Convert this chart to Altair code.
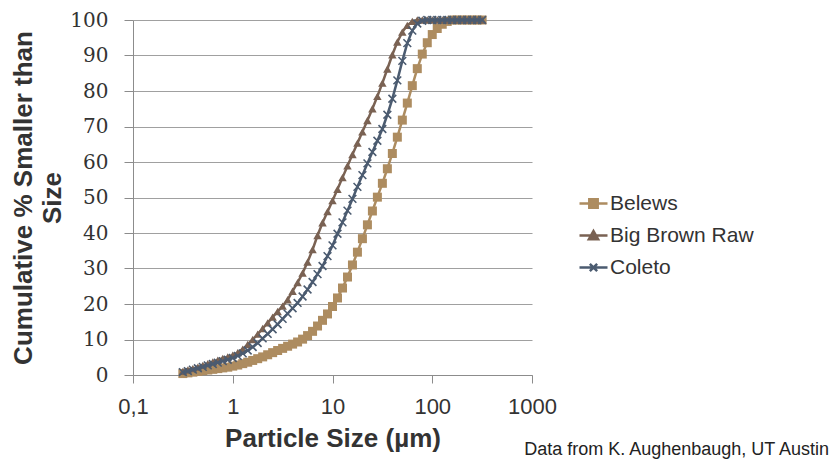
import altair as alt
import pandas as pd

# particle size bins (µm)
sizes = [0.316, 0.355, 0.398, 0.447, 0.501, 0.562, 0.631, 0.708, 0.794, 0.891,
         1.0, 1.122, 1.259, 1.413, 1.585, 1.778, 1.995, 2.239, 2.512, 2.818,
         3.162, 3.548, 3.981, 4.467, 5.012, 5.623, 6.310, 7.079, 7.943, 8.913,
         10.0, 11.22, 12.59, 14.13, 15.85, 17.78, 19.95, 22.39, 25.12, 28.18,
         31.62, 35.48, 39.81, 44.67, 50.12, 56.23, 63.10, 70.79, 79.43, 89.13,
         100.0, 112.2, 125.9, 141.3, 158.5, 177.8, 199.5, 223.9, 251.2, 281.8,
         316.2]

belews = [0.4, 0.6, 0.8, 1.0, 1.2, 1.4, 1.6, 1.8, 2.0, 2.2,
          2.5, 2.8, 3.2, 3.6, 4.1, 4.6, 5.1, 5.7, 6.3, 6.9,
          7.5, 8.1, 8.7, 9.3, 10.1, 11.1, 12.3, 13.8, 15.4, 17.2,
          19.3, 21.7, 24.5, 27.6, 31.0, 34.6, 38.4, 42.3, 46.2, 50.1,
          54.0, 58.1, 62.4, 67.0, 71.8, 76.6, 81.5, 86.3, 90.4, 93.6,
          95.9, 97.6, 98.8, 99.6, 100, 100, 100, 100, 100, 100,
          100]

big_brown = [1.0, 1.4, 1.8, 2.2, 2.7, 3.2, 3.7, 4.2, 4.7, 5.1,
             5.6, 6.3, 7.3, 8.6, 10.0, 11.5, 13.1, 14.7, 16.3, 17.9,
             19.4, 21.2, 23.6, 26.0, 28.7, 31.8, 35.3, 39.3, 42.9, 46.0,
             49.1, 52.3, 55.6, 58.9, 62.1, 65.3, 68.5, 71.7, 75.0, 78.5,
             82.2, 86.2, 90.2, 93.8, 96.6, 98.5, 99.6, 100, 100, 100,
             100, 100, 100, 100, 100, 100, 100, 100, 100, 100,
             100]

coleto = [0.8, 1.1, 1.5, 1.9, 2.3, 2.7, 3.1, 3.5, 3.9, 4.3,
          4.8, 5.4, 6.1, 6.9, 7.9, 9.0, 10.3, 11.6, 12.9, 14.3,
          15.8, 17.3, 18.8, 20.3, 22.1, 24.1, 26.2, 28.4, 30.7, 33.5,
          36.5, 39.8, 43.0, 46.3, 49.6, 53.0, 56.3, 59.6, 62.8, 66.0,
          69.3, 73.3, 77.8, 83.0, 88.5, 93.5, 97.0, 99.0, 99.8, 100,
          100, 100, 100, 100, 100, 100, 100, 100, 100, 100,
          100]

series_names = ["Belews", "Big Brown Raw", "Coleto"]
series_values = [belews, big_brown, coleto]
colors = ["#AD8C60", "#7A6253", "#4B5B70"]
x_ticks = [0.1, 1, 10, 100, 1000]
y_ticks = [0, 10, 20, 30, 40, 50, 60, 70, 80, 90, 100]
x_title = "Particle Size (µm)"
y_title = ["Cumulative % Smaller than", "Size"]
caption = "Data from K. Aughenbaugh, UT Austin"

SERIF = "DejaVu Serif"
SANS = "Liberation Sans"

X_PATH = "M-1,-1L1,1M-1,1L1,-1"
point_shapes = ["square", "triangle-up", X_PATH]
point_sizes = [81, 72, 60]
legend_paths = [
    "M-1,0L1,0M-0.3,-0.3L0.3,-0.3L0.3,0.3L-0.3,0.3Z",
    "M-1,0L1,0M0,-0.32L0.33,0.26L-0.33,0.26Z",
    "M-1,0L1,0M-0.26,-0.26L0.26,0.26M-0.26,0.26L0.26,-0.26",
]

rows = []
for name, vals in zip(series_names, series_values):
    for s, v in zip(sizes, vals):
        rows.append({"series": name, "size": s, "pct": v})
df = pd.DataFrame(rows)

x_enc = alt.X(
    "size:Q",
    scale=alt.Scale(type="log", domain=[0.1, 1000], nice=False),
    axis=alt.Axis(
        values=x_ticks,
        labelExpr="datum.value < 1 ? '0,1' : format(datum.value, 'd')",
        grid=False,
        tickSize=8,
        tickColor="#8C8C8C",
        domainColor="#8C8C8C",
        labelFont=SANS,
        labelFontSize=22,
        labelColor="#333333",
        labelPadding=13,
        labelFlush=False,
        labelOverlap=False,
        title=x_title,
        titleFont=SANS,
        titleFontSize=26,
        titleFontWeight="bold",
        titleColor="#333333",
        titleBaseline="alphabetic",
        titleY=71,
    ),
)
y_enc = alt.Y(
    "pct:Q",
    scale=alt.Scale(domain=[0, 100], nice=False),
    axis=alt.Axis(
        values=y_ticks,
        grid=True,
        gridColor="#A0A0A0",
        gridWidth=1.2,
        tickSize=9,
        tickColor="#8C8C8C",
        domainColor="#8C8C8C",
        labelFont=SERIF,
        labelFontSize=20,
        labelColor="#333333",
        labelPadding=16,
        labelOverlap=False,
        labelFlush=False,
        title=y_title,
        titleFont=SANS,
        titleFontSize=26,
        titleFontWeight="bold",
        titleColor="#333333",
        titleAngle=270,
        titleAlign="center",
        titleBaseline="alphabetic",
        titleLineHeight=29,
        titleX=-102,
        titleY=177.5,
    ),
)

base = alt.Chart(df)
layers = []
for name, col, shp, sz in zip(series_names, colors, point_shapes, point_sizes):
    sub = base.transform_filter(alt.datum.series == name)
    layers.append(
        sub.mark_line(strokeWidth=2.5, color=col).encode(x=x_enc, y=y_enc)
    )
    if shp == X_PATH:
        pts = sub.mark_point(shape=shp, size=sz, filled=False, stroke=col,
                             strokeWidth=1.6, opacity=1)
    else:
        pts = sub.mark_point(shape=shp, size=sz, filled=True, fill=col,
                             opacity=1, strokeWidth=0)
    layers.append(pts.encode(x=x_enc, y=y_enc))

leg = alt.Legend(
    title=None,
    orient="none",
    legendX=445,
    legendY=168,
    padding=0,
    labelFont=SANS,
    labelFontSize=21,
    labelColor="#333333",
    labelOffset=1,
    symbolSize=784,
    symbolStrokeWidth=2.5,
    rowPadding=6,
)
legend_layer = (
    alt.Chart(pd.DataFrame({"series": series_names}))
    .transform_filter("false")
    .mark_point(filled=True, opacity=1, strokeWidth=2.5)
    .encode(
        fill=alt.Fill("series:N", scale=alt.Scale(domain=series_names, range=colors), legend=leg),
        stroke=alt.Stroke("series:N", scale=alt.Scale(domain=series_names, range=colors), legend=leg),
        shape=alt.Shape("series:N", scale=alt.Scale(domain=series_names, range=legend_paths), legend=leg),
    )
)

caption_layer = (
    alt.Chart(pd.DataFrame({"t": [caption]}))
    .mark_text(align="right", baseline="alphabetic", font=SANS,
               fontSize=18, color="#222222")
    .encode(text="t:N", x=alt.value(696), y=alt.value(435))
)

chart = (
    alt.layer(*layers, legend_layer, caption_layer)
    .properties(
        width=399,
        height=355,
        autosize=alt.AutoSizeParams(type="none"),
        padding={"left": 125, "top": 12, "right": 299, "bottom": 85},
    )
    .configure_view(stroke=None)
    .configure_axisY(labelFont=SERIF)
)

chart.save("out.html", embed_options={"renderer": "svg", "actions": False})
